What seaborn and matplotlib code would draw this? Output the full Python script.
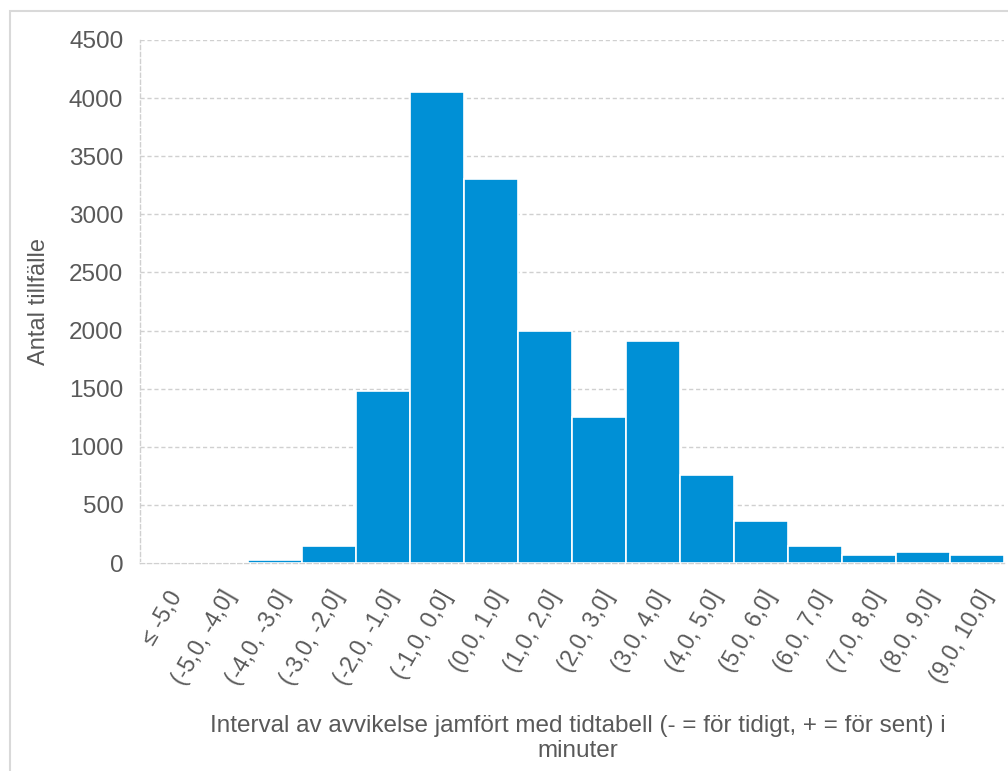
import matplotlib
matplotlib.use("Agg")
import matplotlib.pyplot as plt
import seaborn as sns
import pandas as pd
from matplotlib.patches import Rectangle

categories = ["≤ -5,0", "(-5,0, -4,0]", "(-4,0, -3,0]", "(-3,0, -2,0]", "(-2,0, -1,0]",
              "(-1,0, 0,0]", "(0,0, 1,0]", "(1,0, 2,0]", "(2,0, 3,0]", "(3,0, 4,0]",
              "(4,0, 5,0]", "(5,0, 6,0]", "(6,0, 7,0]", "(7,0, 8,0]", "(8,0, 9,0]",
              "(9,0, 10,0]"]
counts = [0, 0, 22, 150, 1480, 4050, 3305, 1995, 1255, 1910, 755, 360, 150, 65, 97, 65]
y_ticks = [0, 500, 1000, 1500, 2000, 2500, 3000, 3500, 4000, 4500]

df = pd.DataFrame({"interval": categories, "antal": counts})

sns.set_theme(style="white")
plt.rcParams["font.family"] = ["Liberation Sans", "DejaVu Sans"]

text_color = "#595959"
grid_color = "#d0d0d0"
bar_color = "#0090d6"

fig = plt.figure(figsize=(10.08, 7.71), dpi=100)
ax = fig.add_axes([140 / 1008, 1 - 563 / 771, (1004 - 140) / 1008, (563 - 40) / 771])

sns.barplot(data=df, x="interval", y="antal", order=categories, color=bar_color,
            saturation=1, width=1.0, edgecolor="white", linewidth=1.2, ax=ax, zorder=3)

ax.set_xlim(-0.5, len(categories) - 0.5)
ax.set_ylim(0, 4500)
ax.set_yticks(y_ticks)
ax.set_yticklabels([str(v) for v in y_ticks], fontsize=17.5, color=text_color)
ax.yaxis.grid(True, color=grid_color, linestyle=(0, (3, 2)), linewidth=1, zorder=0)
ax.set_axisbelow(True)

for side in ["top", "right"]:
    ax.spines[side].set_visible(False)
for side in ["left", "bottom"]:
    ax.spines[side].set_color(grid_color)
    ax.spines[side].set_linestyle((0, (3, 2)))
    ax.spines[side].set_linewidth(1)
ax.tick_params(axis="y", length=0, pad=12)

ax.set_xticks(range(len(categories)))
ax.set_xticklabels(categories, rotation=60, ha="right", va="top",
                   rotation_mode="anchor", fontsize=16.5, color=text_color)
ax.tick_params(axis="x", length=0, pad=17)

ax.set_ylabel("Antal tillfälle", fontsize=17, color=text_color)
ax.yaxis.set_label_coords(-0.104, 0.5)
ax.set_xlabel("Interval av avvikelse jamfört med tidtabell (- = för tidigt, + = för sent) i\nminuter",
              fontsize=17.5, color=text_color, linespacing=1.2)
ax.xaxis.set_label_coords(0.507, -0.29)

# outer frame of the chart area
fig.patches.append(Rectangle((10 / 1008, -0.1), 1.2, 1 - 11 / 771 + 0.1,
                             transform=fig.transFigure, fill=False,
                             edgecolor="#d9d9d9", linewidth=1.5, zorder=0))

fig.savefig("out.png", dpi=100)
